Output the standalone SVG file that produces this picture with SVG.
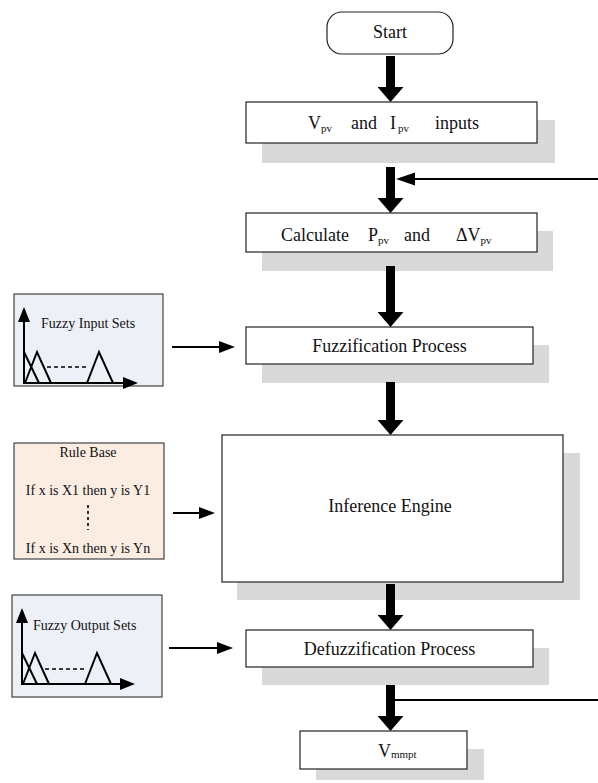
<svg xmlns="http://www.w3.org/2000/svg" width="598" height="783" viewBox="0 0 598 783">
<defs>
<style>
text{font-family:"Liberation Serif","Times New Roman",serif;fill:#111}
.box{fill:#fff;stroke:#222;stroke-width:1.2}
.sh{fill:#d9d9d9}
.t{font-size:18px;text-anchor:middle}
.s{font-size:14px}
.sub{font-size:11px}
.thick{stroke:#000;stroke-width:9;fill:none}
.thin{stroke:#000;stroke-width:2;fill:none}
.fz{fill:#edf0f6;stroke:#444;stroke-width:1.2}
.rb{fill:#fcede3;stroke:#444;stroke-width:1.2}
.tri{fill:none;stroke:#000;stroke-width:2;stroke-linejoin:miter}
.dash{stroke:#000;stroke-width:1.6;stroke-dasharray:4 3;fill:none}
</style>
<marker id="bh" markerUnits="userSpaceOnUse" markerWidth="15" markerHeight="26" refX="0" refY="13" orient="auto"><path d="M0,0 L15,13 L0,26 Z" fill="#000"/></marker>
<marker id="sh" markerUnits="userSpaceOnUse" markerWidth="16" markerHeight="12" refX="0" refY="6" orient="auto"><path d="M0,0 L16,6 L0,12 Z" fill="#000"/></marker>
<marker id="fh" markerUnits="userSpaceOnUse" markerWidth="19" markerHeight="14" refX="0" refY="7" orient="auto"><path d="M0,0.5 L19,7 L0,13.5 Z" fill="#000"/></marker>
<marker id="ah" markerUnits="userSpaceOnUse" markerWidth="15" markerHeight="12" refX="0" refY="6" orient="auto"><path d="M0,0 L15,6 L0,12 Z" fill="#000"/></marker>
</defs>

<g id="start">
<rect x="327" y="12" width="126" height="42" rx="15" ry="15" class="box"/>
<text x="390" y="38" class="t">Start</text>
</g>

<g id="inputs">
<rect x="262" y="120" width="293" height="43" class="sh"/>
<rect x="246" y="102" width="291" height="41" class="box"/>
<text y="129" style="font-size:18px"><tspan x="308">V</tspan><tspan class="sub" dy="3">pv</tspan><tspan x="351" dy="-3">and</tspan><tspan x="390">I</tspan><tspan class="sub" x="398" dy="3">pv</tspan><tspan x="435" dy="-3">inputs</tspan></text>
</g>

<g id="calculate">
<rect x="262" y="231" width="291" height="40" class="sh"/>
<rect x="246" y="213" width="291" height="39" class="box"/>
<text y="241" style="font-size:18px"><tspan x="281">Calculate</tspan><tspan x="368">P</tspan><tspan class="sub" dy="3">pv</tspan><tspan x="404" dy="-3">and</tspan><tspan x="456">ΔV</tspan><tspan class="sub" dy="3">pv</tspan></text>
</g>

<g id="fuzzification">
<rect x="262" y="345" width="287" height="38" class="sh"/>
<rect x="246" y="327" width="287" height="37" class="box"/>
<text x="389.5" y="352" class="t">Fuzzification Process</text>
</g>

<g id="inference">
<rect x="237" y="453" width="343" height="147" class="sh"/>
<rect x="222" y="435" width="341" height="147" class="box"/>
<text x="390" y="512" class="t">Inference Engine</text>
</g>

<g id="defuzzification">
<rect x="262" y="648" width="287" height="37" class="sh"/>
<rect x="246" y="630" width="287" height="37" class="box"/>
<text x="389.5" y="655" class="t">Defuzzification Process</text>
</g>

<g id="vmmpt">
<rect x="316" y="749" width="168" height="31" class="sh"/>
<rect x="300" y="731" width="167" height="38" class="box"/>
<text y="757" style="font-size:18px"><tspan x="378">V</tspan><tspan class="sub" dy="1">mmpt</tspan></text>
</g>

<g id="fuzzy-input-sets">
<rect x="14" y="294" width="149" height="92" class="fz"/>
<line x1="24" y1="383" x2="24" y2="322" class="thin" marker-end="url(#ah)"/>
<line x1="23" y1="383" x2="123" y2="383" class="thin" marker-end="url(#ah)"/>
<polyline points="24,352 39,383" class="tri"/>
<polyline points="25,383 37,352 51,383" class="tri"/>
<line x1="47" y1="367" x2="89" y2="367" class="dash"/>
<polyline points="87,383 99,352 113,383" class="tri"/>
<text x="41" y="328" class="s">Fuzzy Input Sets</text>
</g>

<g id="rule-base">
<rect x="14" y="443" width="150" height="116" class="rb"/>
<text x="88" y="457" class="s" text-anchor="middle">Rule Base</text>
<text x="88" y="495" class="s" text-anchor="middle">If x is X1 then y is Y1</text>
<line x1="88" y1="505" x2="88" y2="530" class="dash" style="stroke-dasharray:3 3"/>
<text x="88" y="553" class="s" text-anchor="middle">If x is Xn then y is Yn</text>
</g>

<g id="fuzzy-output-sets">
<rect x="12" y="595" width="150" height="102" class="fz"/>
<line x1="22" y1="684" x2="22" y2="623" class="thin" marker-end="url(#ah)"/>
<line x1="21" y1="684" x2="120" y2="684" class="thin" marker-end="url(#ah)"/>
<polyline points="22,653 37,684" class="tri"/>
<polyline points="23,684 35,653 49,684" class="tri"/>
<line x1="45" y1="669" x2="87" y2="669" class="dash"/>
<polyline points="85,684 97,653 111,684" class="tri"/>
<text x="33" y="630" class="s">Fuzzy Output Sets</text>
</g>

<g id="connectors">
<line x1="390.5" y1="56" x2="390.5" y2="87" class="thick" marker-end="url(#bh)"/>
<line x1="390.5" y1="167" x2="390.5" y2="198" class="thick" marker-end="url(#bh)"/>
<line x1="390.5" y1="266" x2="390.5" y2="312" class="thick" marker-end="url(#bh)"/>
<line x1="390.5" y1="382" x2="390.5" y2="420" class="thick" marker-end="url(#bh)"/>
<line x1="390.5" y1="584" x2="390.5" y2="615" class="thick" marker-end="url(#bh)"/>
<line x1="390.5" y1="685" x2="390.5" y2="716" class="thick" marker-end="url(#bh)"/>
<line x1="598" y1="179" x2="415" y2="179" class="thin" marker-end="url(#fh)"/>
<line x1="395" y1="700" x2="598" y2="700" class="thin"/>
<line x1="172" y1="347" x2="219" y2="347" class="thin" marker-end="url(#sh)"/>
<line x1="173" y1="513" x2="199" y2="513" class="thin" marker-end="url(#sh)"/>
<line x1="169" y1="648" x2="217" y2="648" class="thin" marker-end="url(#sh)"/>
</g>
</svg>
